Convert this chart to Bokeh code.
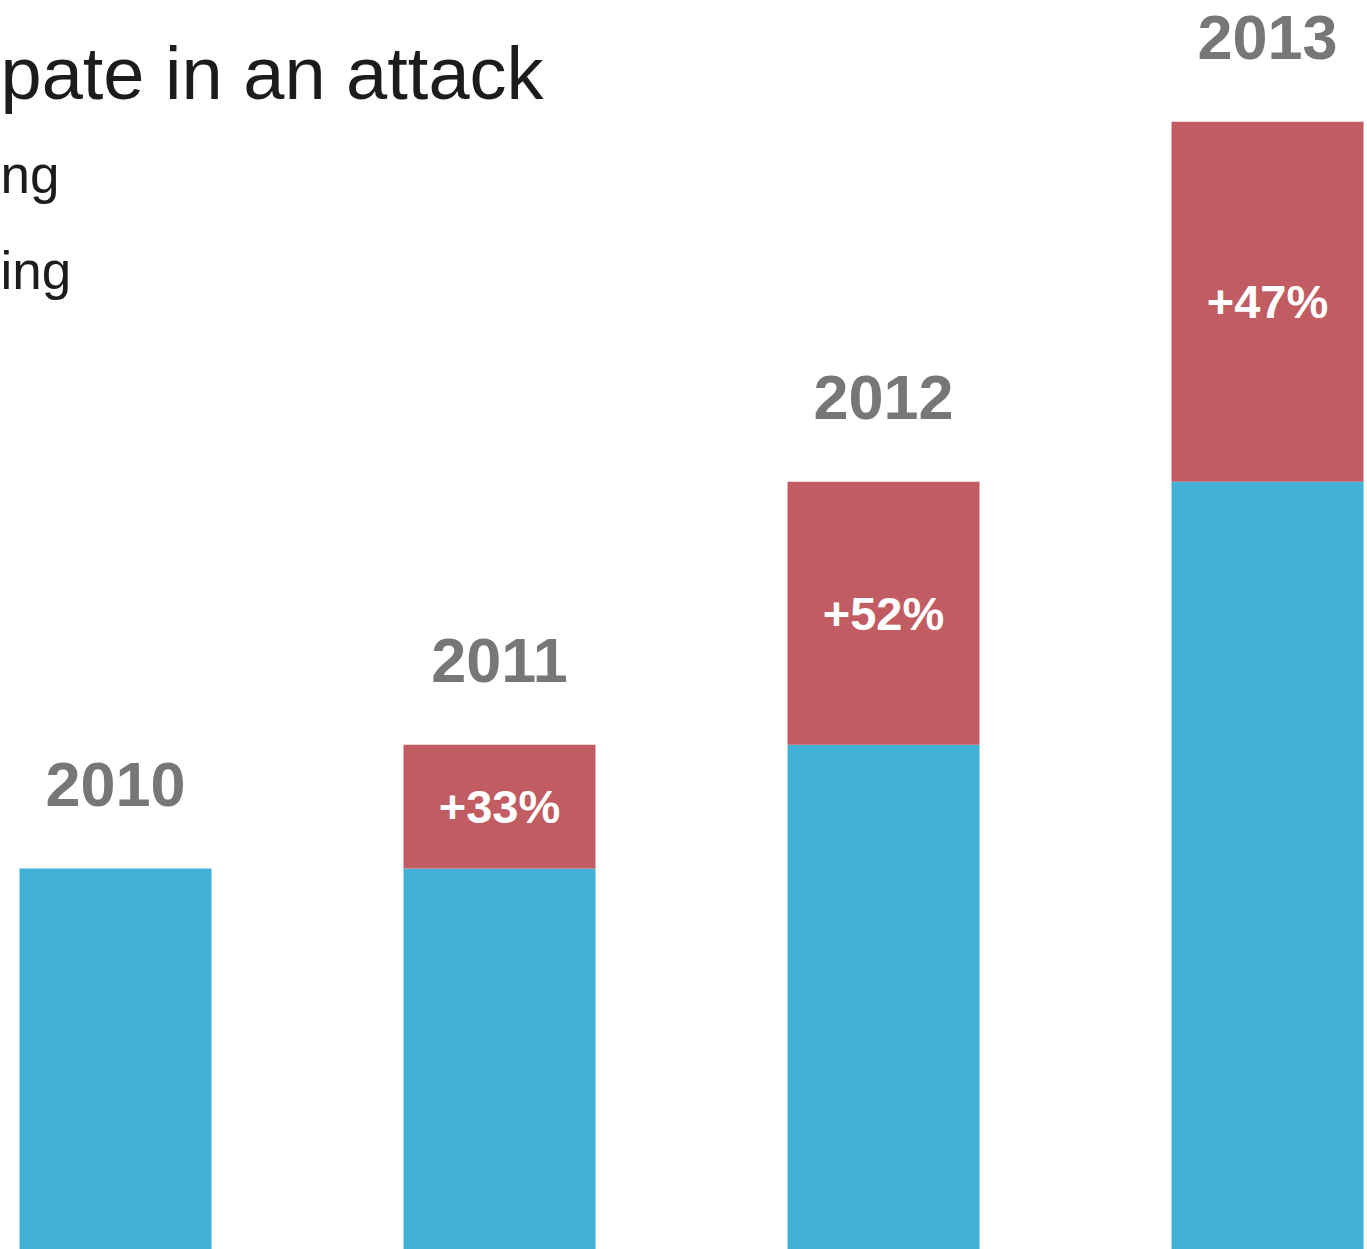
from bokeh.plotting import figure
from bokeh.models import Range1d, ColumnDataSource
from bokeh.core.properties import value
from bokeh.embed import file_html
from bokeh.resources import INLINE

# ---- data ----
years = ["2010", "2011", "2012", "2013"]
totals = [100, 132.5, 201.5, 296]          # total per year
prev_totals = [100, 100, 132.5, 201.5]     # blue part = previous year's total
pct_labels = ["", "+33%", "+52%", "+47%"]
title_text = "pate in an attack"
legend_texts = ["ng", "ing"]

BLUE = "#41B1D7"
RED = "#C15D62"
GRAY = "#777777"
DARK = "#1c1c1c"

W, H = 1367, 1249
px_per_x = 384.0
px_per_y = 3.81
x_start = -115.0 / px_per_x
x_end = x_start + W / px_per_x
y_end = H / px_per_y

p = figure(width=W, height=H, output_backend="svg", toolbar_location=None,
           x_range=Range1d(x_start, x_end), y_range=Range1d(0, y_end),
           min_border=0, min_border_left=0, min_border_right=0,
           min_border_top=0, min_border_bottom=0)
p.axis.visible = False
p.grid.visible = False
p.outline_line_color = None
p.background_fill_color = "white"
p.border_fill_color = "white"

xs = list(range(len(years)))
src = ColumnDataSource(dict(
    x=xs, prev=prev_totals, tot=totals, zero=[0] * len(xs),
    mid=[(a + b) / 2 for a, b in zip(prev_totals, totals)],
    ylab=[t + 84 / px_per_y for t in totals],
    year=years, pct=pct_labels,
))

p.vbar(x="x", width=0.5, bottom="zero", top="prev", source=src,
       fill_color=BLUE, line_color=None)
p.vbar(x="x", width=0.5, bottom="prev", top="tot", source=src,
       fill_color=RED, line_color=None)

p.text(x="x", y="ylab", text="year", source=src,
       text_font=value("Liberation Sans"), text_font_style="bold",
       text_font_size="63px", text_color=GRAY,
       text_align="center", text_baseline="alphabetic")

p.text(x="x", y="mid", text="pct", source=src,
       text_font=value("Liberation Sans"), text_font_style="bold",
       text_font_size="47px", text_color="white",
       text_align="center", text_baseline="middle")

# title fragment and legend fragments (at the left edge)
p.text(x=[x_start], y=[(H - 73) / px_per_y], text=[title_text],
       text_font=value("Liberation Sans"), text_font_size="74px",
       text_color=DARK, text_align="left", text_baseline="alphabetic")
p.text(x=[x_start] * 2,
       y=[(H - 174) / px_per_y, (H - 270) / px_per_y], text=legend_texts,
       text_font=value("Liberation Sans"), text_font_size="53px",
       text_color=DARK, text_align="left", text_baseline="alphabetic")

open("out.html", "w").write(file_html(p, INLINE))
